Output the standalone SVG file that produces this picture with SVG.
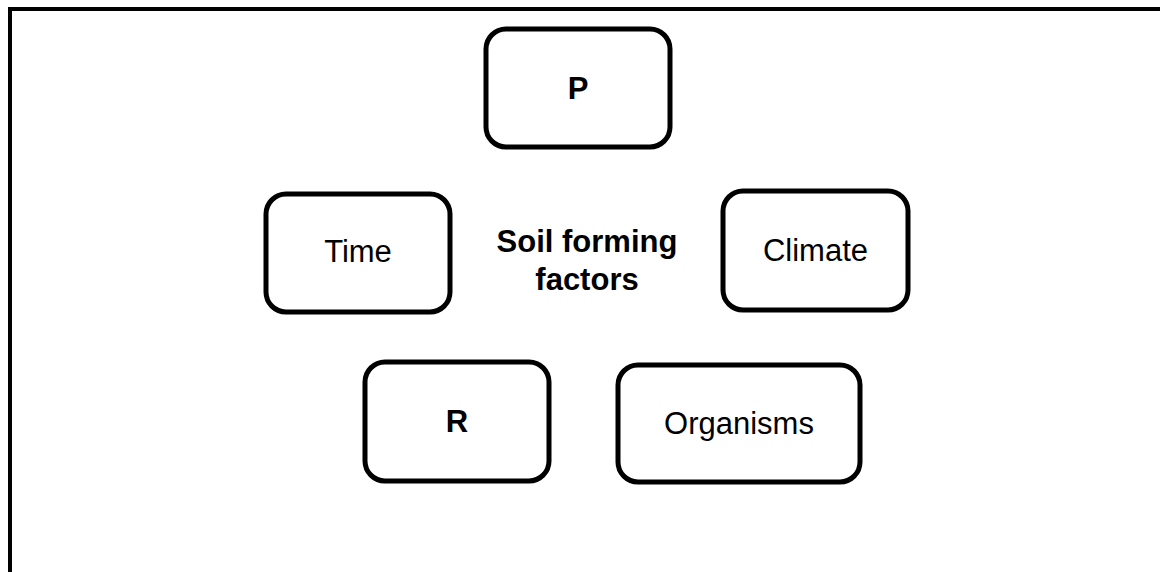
<svg xmlns="http://www.w3.org/2000/svg" width="1160" height="572" viewBox="0 0 1160 572">
  <style>
    .box { fill: #ffffff; stroke: #000000; stroke-width: 5; }
    .lbl { font-family: "Liberation Sans", Arial, sans-serif; font-size: 31px; fill: #000000; text-anchor: middle; }
    .b { font-weight: bold; }
  </style>
  <rect x="0" y="0" width="1160" height="572" fill="#ffffff"/>
  <path id="frame" d="M10,572 V9 H1160" fill="none" stroke="#000000" stroke-width="4"/>
  <g id="connectors"></g>
  <g id="node-p">
    <rect class="box" x="486" y="29" width="184" height="118" rx="20" ry="20"/>
    <text class="lbl b" x="578" y="99">P</text>
  </g>
  <g id="node-time">
    <rect class="box" x="266" y="194" width="184" height="118" rx="20" ry="20"/>
    <text class="lbl" x="358" y="262">Time</text>
  </g>
  <g id="node-center">
    <text class="lbl b" x="587" y="252">Soil forming</text>
    <text class="lbl b" x="587" y="290">factors</text>
  </g>
  <g id="node-climate">
    <rect class="box" x="723" y="191" width="185" height="119" rx="20" ry="20"/>
    <text class="lbl" x="815.5" y="261">Climate</text>
  </g>
  <g id="node-r">
    <rect class="box" x="365" y="362" width="184" height="119" rx="20" ry="20"/>
    <text class="lbl b" x="457" y="432">R</text>
  </g>
  <g id="node-organisms">
    <rect class="box" x="618" y="365" width="242" height="117" rx="20" ry="20"/>
    <text class="lbl" x="739" y="434">Organisms</text>
  </g>
</svg>
